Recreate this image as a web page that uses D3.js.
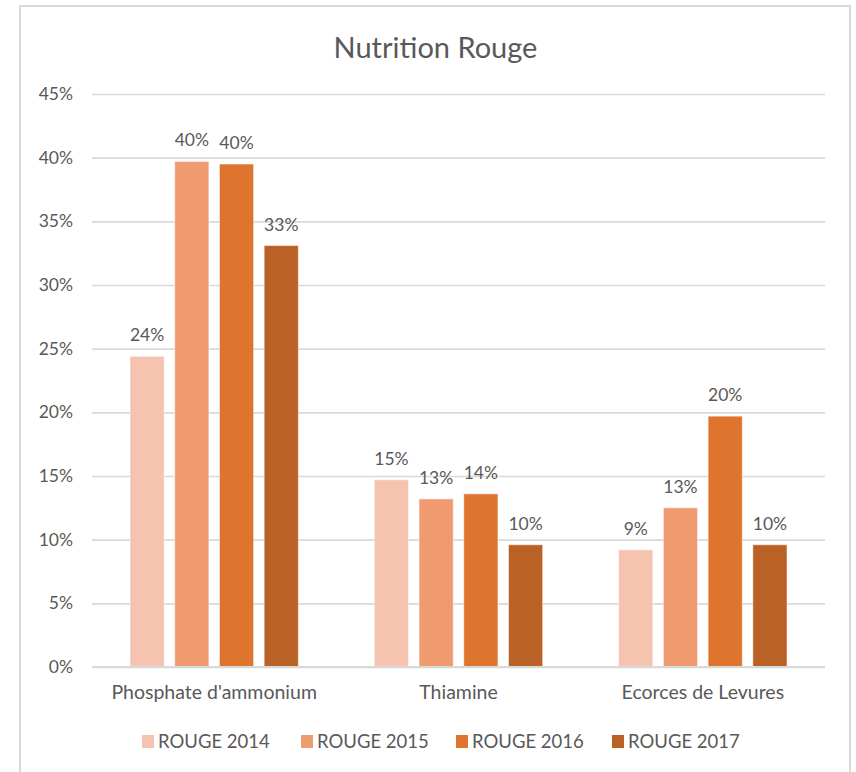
<!DOCTYPE html>
<html>
<head>
<meta charset="utf-8">
<script src="https://cdn.jsdelivr.net/npm/d3@7"></script>
<style>
  html, body { margin: 0; padding: 0; background: #fff; }
  svg { display: block; font-family: Lato, "Open Sans", sans-serif; }
</style>
</head>
<body>
<svg id="chart" width="856" height="772"></svg>
<script>
// Nutrition shares per wine year (red wines)
const categories = ["Phosphate d'ammonium", "Thiamine", "Ecorces de Levures"];
const seriesNames = ["ROUGE 2014", "ROUGE 2015", "ROUGE 2016", "ROUGE 2017"];
const rouge2014 = [0.244, 0.147, 0.092];
const rouge2015 = [0.397, 0.132, 0.125];
const rouge2016 = [0.395, 0.136, 0.197];
const rouge2017 = [0.331, 0.096, 0.096];
const seriesValues = [rouge2014, rouge2015, rouge2016, rouge2017];
const seriesColors = ["#F5C3B0", "#F09A70", "#DE742E", "#BA6125"];
const yTicks = [0, 0.05, 0.10, 0.15, 0.20, 0.25, 0.30, 0.35, 0.40, 0.45];
const title = "Nutrition Rouge";

const svg = d3.select("#chart");
const W = 856, H = 772;
const plot = { left: 92, right: 825, top: 94, bottom: 667 };
const textColor = "#595959";
const gridColor = "#D9D9D9";

// outer frame
svg.append("rect")
  .attr("x", 20).attr("y", 6)
  .attr("width", 830).attr("height", H + 10)
  .attr("fill", "#fff")
  .attr("stroke", gridColor).attr("stroke-width", 2);

const x0 = d3.scaleBand()
  .domain(categories)
  .range([plot.left, plot.right])
  .paddingInner(0.311).paddingOuter(0.1555);

const x1 = d3.scaleBand()
  .domain(seriesNames)
  .range([0, x0.bandwidth()])
  .paddingInner(0.236).paddingOuter(0);

const y = d3.scaleLinear().domain([0, 0.45]).range([plot.bottom, plot.top]);

// title
svg.append("text")
  .attr("x", 435.5)
  .attr("y", 58)
  .attr("text-anchor", "middle")
  .attr("fill", textColor)
  .attr("font-size", 29)
  .text(title);

// gridlines and y labels
const yAxis = d3.axisLeft(y)
  .tickValues(yTicks)
  .tickFormat(d3.format(".0%"))
  .tickSize(-(plot.right - plot.left))
  .tickPadding(19);

const gy = svg.append("g")
  .attr("transform", `translate(${plot.left},0)`)
  .call(yAxis);
gy.select(".domain").remove();
gy.selectAll(".tick line")
  .attr("stroke", gridColor).attr("stroke-width", 1.6);
gy.selectAll(".tick text")
  .attr("fill", textColor)
  .attr("font-size", 17.5)
  .attr("font-family", "Lato, sans-serif");

// bars
const groups = svg.append("g").selectAll("g")
  .data(seriesNames)
  .join("g")
  .attr("fill", (d, i) => seriesColors[i]);

groups.selectAll("rect")
  .data((s, si) => categories.map((c, ci) => ({ s, c, v: seriesValues[si][ci] })))
  .join("rect")
  .attr("x", d => x0(d.c) + x1(d.s))
  .attr("y", d => y(d.v))
  .attr("width", x1.bandwidth())
  .attr("height", d => y(0) - y(d.v))
  .attr("stroke", "#fff").attr("stroke-opacity", 0.5).attr("stroke-width", 1);

// data labels
groups.selectAll("text")
  .data((s, si) => categories.map((c, ci) => ({ s, c, v: seriesValues[si][ci] })))
  .join("text")
  .attr("x", d => x0(d.c) + x1(d.s) + x1.bandwidth() / 2)
  .attr("y", d => y(d.v) - 15)
  .attr("text-anchor", "middle")
  .attr("fill", textColor)
  .attr("font-size", 17.5)
  .text(d => d3.format(".0%")(d.v));

// baseline
svg.append("line")
  .attr("x1", plot.left).attr("x2", plot.right)
  .attr("y1", y(0)).attr("y2", y(0))
  .attr("stroke", gridColor).attr("stroke-width", 2);

// category labels
const xAxis = d3.axisBottom(x0).tickSize(0).tickPadding(18);
const gx = svg.append("g")
  .attr("transform", `translate(0,${plot.bottom})`)
  .call(xAxis);
gx.select(".domain").remove();
gx.selectAll(".tick text")
  .attr("fill", textColor)
  .attr("font-size", 19.5)
  .attr("font-family", "Lato, sans-serif");

// legend
const legendX = [142, 301, 456, 612];
const legend = svg.append("g").selectAll("g")
  .data(seriesNames)
  .join("g")
  .attr("transform", (d, i) => `translate(${legendX[i]},735)`);
legend.append("rect")
  .attr("width", 12).attr("height", 13)
  .attr("fill", (d, i) => seriesColors[i]);
legend.append("text")
  .attr("x", 16).attr("y", 13)
  .attr("fill", textColor)
  .attr("font-size", 18.5)
  .text(d => d);
</script>
</body>
</html>
